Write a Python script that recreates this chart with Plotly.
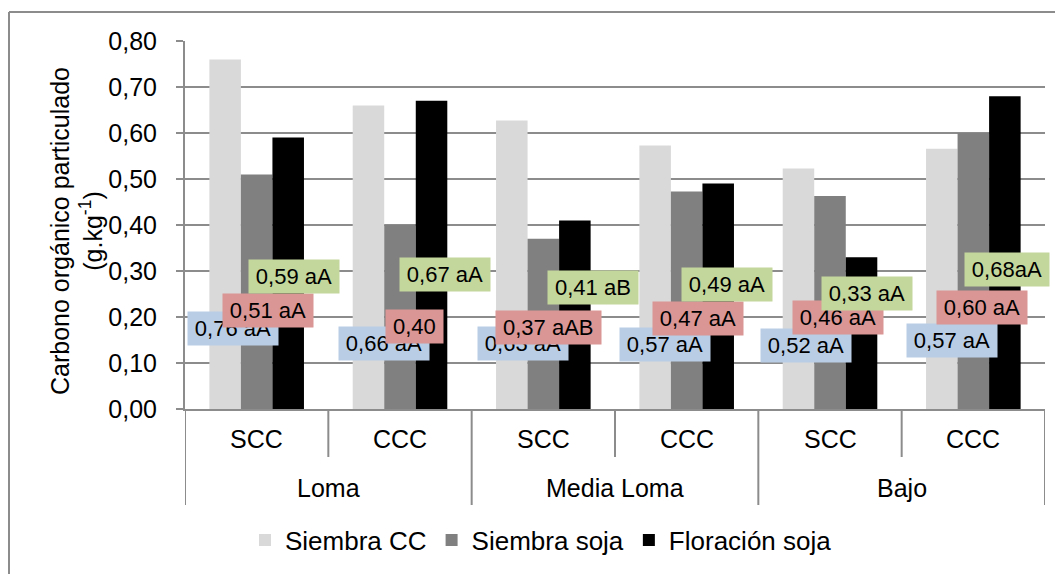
import plotly.graph_objects as go

# ---- data ----
sub_labels = ["SCC", "CCC", "SCC", "CCC", "SCC", "CCC"]
group_labels = ["Loma", "Media Loma", "Bajo"]
series_names = ["Siembra CC", "Siembra soja", "Floración soja"]
siembra_cc = [0.76, 0.66, 0.627, 0.573, 0.523, 0.566]
siembra_soja = [0.51, 0.40, 0.37, 0.473, 0.463, 0.60]
floracion_soja = [0.59, 0.67, 0.41, 0.49, 0.33, 0.68]
y_ticks = [0.0, 0.1, 0.2, 0.3, 0.4, 0.5, 0.6, 0.7, 0.8]

lbl_cc = ["0,76 aA", "0,66 aA", "0,63 aA", "0,57 aA", "0,52 aA", "0,57 aA"]
lbl_soja = ["0,51 aA", "0,40", "0,37 aAB", "0,47 aA", "0,46 aA", "0,60 aA"]
lbl_flor = ["0,59 aA", "0,67 aA", "0,41 aB", "0,49 aA", "0,33 aA", "0,68aA"]

# ---- label placement (layout, px offsets and y positions) ----
pos_cc_dx = [-24, -16, -20, -22, -24, -21]
pos_cc_y = [0.176, 0.143, 0.143, 0.141, 0.137, 0.148]
pos_soja_dx = [11, 14, 5, 11, 8, 9]
pos_soja_y = [0.215, 0.180, 0.178, 0.196, 0.198, 0.220]
pos_flor_dx = [37, 45, 50, 40, 37, 34]
pos_flor_y = [0.289, 0.293, 0.265, 0.270, 0.252, 0.304]

colors = ["#D9D9D9", "#808080", "#000000"]
box_colors = ["#B9CDE5", "#D99694", "#C3D69B"]
FONT = "Arial, Liberation Sans, sans-serif"
GRID = "#8c8c8c"

# page geometry (page has an 8px body margin around the figure)
OFF = 8
W, H = 1063, 574
P_LEFT, P_RIGHT, P_TOP, P_BOTTOM = 185, 1045, 41, 409
PW, PH = P_RIGHT - P_LEFT, P_BOTTOM - P_TOP
L = P_LEFT - OFF
T = P_TOP - OFF
R = W - L - PW
B = H - T - PH

def px_x(px):
    return (px - P_LEFT) / PW

def px_y(py):
    return (P_BOTTOM - py) / PH

ARIAL_W = {"0": .556, "1": .556, "2": .556, "3": .556, "4": .556, "5": .556,
           "6": .556, "7": .556, "8": .556, "9": .556, ",": .278, " ": .278,
           "a": .556, "A": .667, "B": .667}

def text_w(s, size):
    return sum(ARIAL_W.get(c, .556) for c in s) * size

x_idx = list(range(len(sub_labels)))

fig = go.Figure()
for name, vals, col in zip(series_names, [siembra_cc, siembra_soja, floracion_soja], colors):
    fig.add_trace(go.Bar(x=x_idx, y=vals, name=name, marker=dict(color=col, line=dict(width=0))))

annotations = []
LBL_SIZE = 22
for texts, dxs, ys, bc in [(lbl_cc, pos_cc_dx, pos_cc_y, box_colors[0]),
                           (lbl_soja, pos_soja_dx, pos_soja_y, box_colors[1]),
                           (lbl_flor, pos_flor_dx, pos_flor_y, box_colors[2])]:
    for i, (t, dx, yy) in enumerate(zip(texts, dxs, ys)):
        annotations.append(dict(
            x=x_idx[i], y=yy, xref="x", yref="y", xshift=dx,
            text=t, showarrow=False, xanchor="center", yanchor="middle",
            bgcolor=bc, borderpad=4, width=text_w(t, LBL_SIZE) + 6, height=25,
            font=dict(family=FONT, size=LBL_SIZE, color="#000000")))

# category labels
for i, s in enumerate(sub_labels):
    annotations.append(dict(x=x_idx[i], y=px_y(439), xref="x", yref="paper",
                            text=s, showarrow=False, xanchor="center", yanchor="middle",
                            font=dict(family=FONT, size=25, color="#000000")))
for g, name in enumerate(group_labels):
    annotations.append(dict(x=2 * g + 0.5, y=px_y(488), xref="x", yref="paper",
                            text=name, showarrow=False, xanchor="center", yanchor="middle",
                            font=dict(family=FONT, size=25, color="#000000")))

# y-axis title
annotations.append(dict(x=px_x(76), y=px_y(231), xref="paper", yref="paper",
                        text="Carbono orgánico particulado<br>(g.kg<sup>-1</sup>)",
                        textangle=-90, showarrow=False, xanchor="center", yanchor="middle",
                        font=dict(family=FONT, size=25, color="#000000")))

shapes = []
n = len(sub_labels)
for k in range(n + 1):
    bottom = 505 if k % 2 == 0 else 457
    shapes.append(dict(type="line", xref="x", yref="paper", x0=k - 0.5, x1=k - 0.5,
                       y0=0, y1=px_y(bottom), line=dict(color=GRID, width=2)))
# outer chart border (left and top)
shapes.append(dict(type="line", xref="paper", yref="paper", x0=px_x(9), x1=px_x(9),
                   y0=px_y(590), y1=px_y(12), line=dict(color=GRID, width=2)))
shapes.append(dict(type="line", xref="paper", yref="paper", x0=px_x(9), x1=px_x(1080),
                   y0=px_y(12), y1=px_y(12), line=dict(color=GRID, width=2)))

fig.update_layout(
    width=W, height=H,
    margin=dict(l=L, r=R, t=T, b=B, autoexpand=False),
    paper_bgcolor="white", plot_bgcolor="white",
    separators=",.",
    barmode="group", bargap=0.34, bargroupgap=0,
    font=dict(family=FONT, size=25, color="#000000"),
    showlegend=True,
    legend=dict(orientation="h", x=px_x(541), y=px_y(540), xanchor="center", yanchor="middle",
                font=dict(family=FONT, size=26, color="#000000"), itemclick=False,
                traceorder="normal", bgcolor="rgba(0,0,0,0)"),
    xaxis=dict(range=[-0.5, n - 0.5], showticklabels=False, showgrid=False, zeroline=False,
               showline=True, linecolor=GRID, linewidth=2, ticks=""),
    yaxis=dict(range=[0, 0.8], tickvals=y_ticks, tickformat=".2f", showgrid=True,
               gridcolor=GRID, gridwidth=2, zeroline=False, showline=True, linecolor=GRID,
               linewidth=2, ticks="outside", ticklen=7, tickcolor=GRID, tickwidth=2,
               ticklabelstandoff=14,
               tickfont=dict(family=FONT, size=25, color="#000000")),
    annotations=annotations,
    shapes=shapes,
)

fig.write_html("out.html")
